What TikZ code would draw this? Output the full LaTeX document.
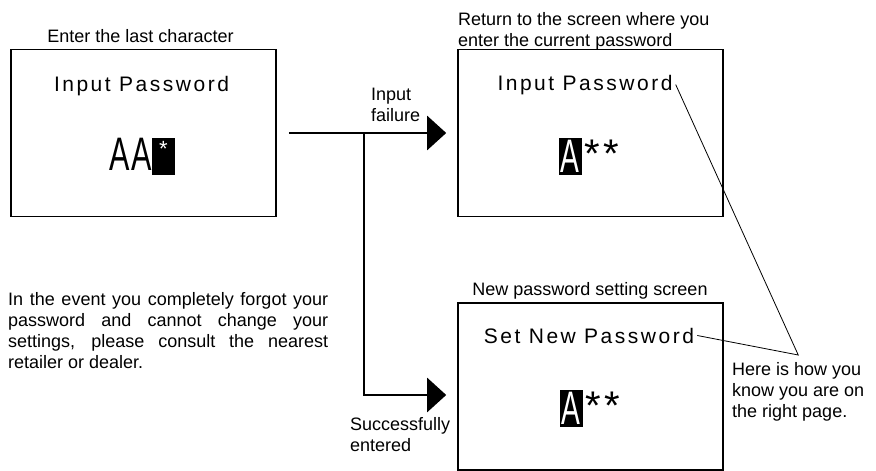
\documentclass[tikz,border=0pt]{standalone}
\usepackage{fontspec}
\setmainfont{Liberation Sans}
\newfontfamily\lcdfont[LetterSpace=12]{Liberation Sans}
\usetikzlibrary{arrows.meta, positioning}

\begin{document}
\begin{tikzpicture}[x=1pt, y=-1pt,
  screen/.style={draw, line width=1.6pt, minimum width=265pt, minimum height=167pt},
  caption/.style={font=\fontsize{18}{21}\selectfont, inner sep=0pt, align=left},
  lcd/.style={font=\lcdfont\fontsize{21}{22}\selectfont, inner sep=0pt},
  cursor/.style={fill=black, text=white, minimum width=23pt, minimum height=37pt, inner sep=0pt, font=\fontsize{47}{47}\selectfont},
  typed/.style={font=\fontsize{47}{47}\selectfont, inner sep=0pt},
  stars/.style={font=\fontsize{40}{40}\selectfont, inner sep=0pt},
  flow/.style={line width=2.4pt, -{Triangle[length=19pt, width=34pt]}},
  leader/.style={line width=0.8pt}]

  \useasboundingbox (0,0) rectangle (876,471);

  % the three screens
  \node[screen] (last) at (143.5,133) {};
  \node[screen] (retry) at (590.5,133) {};
  \node[screen] (newpw) at (590.5,386.5) {};

  % what each screen shows
  \node[lcd, anchor=base] (pwlast) at (141.5,91) {Input Password};
  \node[cursor] (caret) at (163.5,156.5) {};
  \node[text=white, font=\fontsize{22}{22}\selectfont, inner sep=0pt, anchor=north] (blink) at ([yshift=-3pt]caret.north) {*};
  \node[typed, anchor=south east] (chars) at ([yshift=5pt]caret.south west) {\scalebox{0.65}[1]{A\hspace{2pt}A}};

  \node[lcd, anchor=base] (pwretry) at (585,90) {Input Password};
  \node[cursor] (cur1) at (570,156.5) {\scalebox{0.6}[1]{A}};
  \node[stars, anchor=north west] (mask1) at ([xshift=3pt, yshift=-2pt]cur1.north east) {*\hspace{3pt}*};

  \node[lcd, anchor=base] (pwnew) at (589,343) {Set New Password};
  \node[cursor] (cur2) at (571,408.5) {\scalebox{0.6}[1]{A}};
  \node[stars, anchor=north west] (mask2) at ([xshift=3pt, yshift=-2pt]cur2.north east) {*\hspace{3pt}*};

  % captions
  \node[caption, anchor=base] (hdlast) at (140.5,42) {Enter the last character};
  \node[caption, anchor=north west] (hdretry) at (458,12) {Return to the screen where you\\enter the current password};
  \node[caption, anchor=base] (hdnew) at (590,295) {New password setting screen};
  \node[caption, anchor=north west] (fail) at (371,88) {Input\\failure};
  \node[caption, anchor=north west] (ok) at (350,417) {Successfully\\entered};
  \node[caption, anchor=north west] (note) at (732,362) {Here is how you\\know you are on\\the right page.};
  \node[caption, anchor=north west, text width=320pt, align=justify] (advice) at (8,292)
    {In the event you completely forgot your\linebreak password and cannot change your\linebreak settings, please consult the nearest\linebreak retailer or dealer.};

  % flow between screens
  \coordinate (fork) at (364,133);
  \draw[flow] ([xshift=12pt]last.east) -- ([xshift=-11pt]retry.west);
  \draw[flow] (fork) |- ([xshift=-11pt, yshift=-8.5pt]newpw.west);

  % pointer to the screen titles
  \coordinate (meet) at ([yshift=7pt]note.north);
  \draw[leader] ([xshift=3pt]pwretry.east) -- (meet) -- ([xshift=3pt]pwnew.east);
\end{tikzpicture}
\end{document}
